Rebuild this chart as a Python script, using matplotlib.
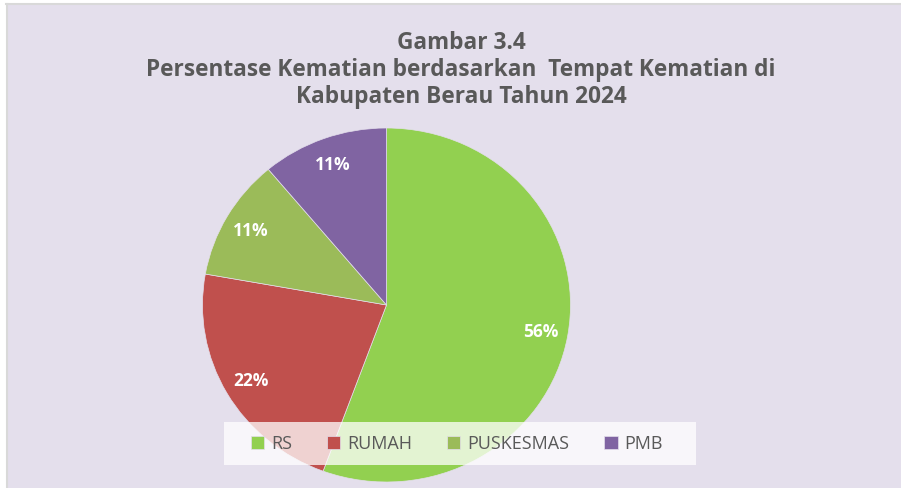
import matplotlib
matplotlib.use("Agg")
import matplotlib.pyplot as plt
from matplotlib.patches import Rectangle

# data
places = ["RS", "RUMAH", "PUSKESMAS", "PMB"]
percent = [55.6, 22.2, 11.1, 11.1]
colors = ["#92D050", "#C0504D", "#9BBB59", "#8064A2"]
title_lines = ["Gambar 3.4",
               "Persentase Kematian berdasarkan  Tempat Kematian di",
               "Kabupaten Berau Tahun 2024"]

W, H = 901, 489
fig = plt.figure(figsize=(W / 100, H / 100), dpi=100)
fig.patch.set_facecolor("white")

# chart area background with thin grey border on top/left
bg = Rectangle((7 / W, 0), 1 - 7 / W, (H - 5) / H, transform=fig.transFigure,
               facecolor="#E4DFEC", edgecolor="none", zorder=-5)
fig.patches.append(bg)
fig.add_artist(plt.Line2D([6 / W, 1], [(H - 4.5) / H] * 2, color="#D9D9D9", lw=1.5, zorder=-4))
fig.add_artist(plt.Line2D([6.5 / W] * 2, [0, (H - 4.5) / H], color="#D9D9D9", lw=1.5, zorder=-4))

# pie (slightly stretched like the original)
cx, cy, rx, ry = 386.5, 306, 184, 177
ax = fig.add_axes([(cx - rx) / W, (H - cy - ry) / H, 2 * rx / W, 2 * ry / H])
ax.set_facecolor("none")
wedges, texts, autotexts = ax.pie(percent, colors=colors, startangle=90, counterclock=False,
                                  autopct="%.0f%%", pctdistance=0.85,
                                  wedgeprops=dict(linewidth=0.5, edgecolor="#E4DFEC"),
                                  textprops=dict(color="white", fontsize=12.5, fontweight="bold",
                                                 family="Open Sans"))
ax.set_aspect("auto")
ax.set_xlim(-1, 1)
ax.set_ylim(-1, 1)
ax.axis("off")

# title
tx = 461 / W
for line, y in zip(title_lines, [43, 70, 97]):
    fig.text(tx, 1 - y / H, line, ha="center", va="center", fontsize=16.3,
             fontweight="bold", color="#595959", family="Open Sans")

# legend box (semi-transparent white, drawn over the pie)
fig.add_artist(Rectangle((224 / W, 1 - 466 / H), 472 / W, 43 / H, transform=fig.transFigure,
                         facecolor="white", alpha=0.75, edgecolor="none", zorder=4))
leg = fig.legend(wedges, places, loc="center", ncol=4,
                 bbox_to_anchor=(457 / W, 1 - 444.5 / H),
                 prop=dict(family="Open Sans", size=13), labelcolor="#595959",
                 frameon=False, handlelength=0.75, handleheight=0.75,
                 handletextpad=0.4, columnspacing=1.9, borderpad=0.3,
                 borderaxespad=0)
leg.set_zorder(5)

fig.savefig("out.png", dpi=100, facecolor=fig.get_facecolor())
